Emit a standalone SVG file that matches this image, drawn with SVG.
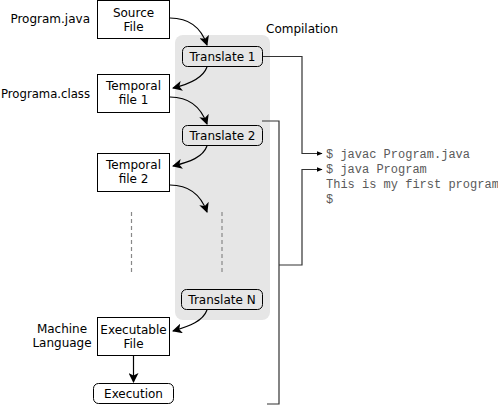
<svg xmlns="http://www.w3.org/2000/svg" width="498" height="405" viewBox="0 0 498 405">
<defs>
<style>
.t{font-family:"DejaVu Sans",Verdana,sans-serif;font-size:12px;fill:#000}
.c{text-anchor:middle}
.r{text-anchor:end}
.box{fill:#fff;stroke:#000;stroke-width:1}
.tr{fill:#e6e6e6;stroke:#000;stroke-width:1}
.m{font-family:"Liberation Mono","Courier New",monospace;font-size:12px;fill:#5a5a5a}
.a{fill:none;stroke:#000;stroke-width:1.2}
.l{fill:none;stroke:#333;stroke-width:1.2}
.d{fill:none;stroke:#888;stroke-width:1.2;stroke-dasharray:4 3}
</style>
<marker id="ah" viewBox="0 0 10 10" refX="9" refY="5" markerWidth="10" markerHeight="10" markerUnits="userSpaceOnUse" orient="auto">
<path d="M0,0 L10,5 L0,10 L2.5,5 Z" fill="#000"/>
</marker>
<marker id="as" viewBox="0 0 10 10" refX="9" refY="5" markerWidth="6" markerHeight="6" markerUnits="userSpaceOnUse" orient="auto">
<path d="M0,1 L10,5 L0,9 Z" fill="#000"/>
</marker>
</defs>
<rect id="compilation-bg" x="175" y="35" width="95" height="285" rx="8" fill="#e6e6e6"/>
<text class="t" x="266" y="33">Compilation</text>
<text class="t r" x="90" y="23">Program.java</text>
<text class="t" x="1" y="98" textLength="89" lengthAdjust="spacingAndGlyphs">Programa.class</text>
<text class="t c" x="62" y="333">Machine</text>
<text class="t c" x="62" y="347">Language</text>
<g id="source">
<rect class="box" x="97.5" y="0.5" width="72" height="38"/>
<text class="t c" x="133.5" y="17">Source</text>
<text class="t c" x="133.5" y="31">File</text>
</g>
<g id="translate1">
<rect class="tr" x="182.5" y="46.5" width="80" height="20" rx="5"/>
<text class="t c" x="222.5" y="60.5">Translate 1</text>
</g>
<g id="temporal1">
<rect class="box" x="97.5" y="74.5" width="72" height="38"/>
<text class="t c" x="133.5" y="90">Temporal</text>
<text class="t c" x="133.5" y="104">file 1</text>
</g>
<g id="translate2">
<rect class="tr" x="182.5" y="125.5" width="80" height="20" rx="5"/>
<text class="t c" x="222.5" y="139.5">Translate 2</text>
</g>
<g id="temporal2">
<rect class="box" x="97.5" y="153.5" width="72" height="38"/>
<text class="t c" x="133.5" y="169">Temporal</text>
<text class="t c" x="133.5" y="183">file 2</text>
</g>
<g id="translateN">
<rect class="tr" x="181.5" y="289.5" width="81" height="20" rx="5"/>
<text class="t c" x="222" y="303.5">Translate N</text>
</g>
<g id="executable">
<rect class="box" x="97.5" y="317.5" width="72" height="38"/>
<text class="t c" x="133.5" y="334">Executable</text>
<text class="t c" x="133.5" y="348">File</text>
</g>
<g id="execution">
<rect class="box" x="93.5" y="383.5" width="80" height="20" rx="5"/>
<text class="t c" x="133.5" y="397.5">Execution</text>
</g>
<g id="terminal">
<text class="m" x="326" y="158">$ javac Program.java</text>
<text class="m" x="326" y="173">$ java Program</text>
<text class="m" x="326" y="188">This is my first program</text>
<text class="m" x="326" y="203">$</text>
</g>
<g id="connectors">
<path class="a" d="M170,18 C192,18 202,30 207,45" marker-end="url(#ah)"/>
<path class="a" d="M207,67 C203,78 190,84 173,88" marker-end="url(#ah)"/>
<path class="a" d="M170,97 C192,97 202,110 207,124" marker-end="url(#ah)"/>
<path class="a" d="M207,146 C203,157 190,162 173,166" marker-end="url(#ah)"/>
<path class="a" d="M170,185 C192,185 202,198 207,212" marker-end="url(#ah)"/>
<path class="a" d="M207,310 C203,321 190,326 173,331" marker-end="url(#ah)"/>
<path class="a" d="M133.5,356 V382" marker-end="url(#ah)"/>
<path class="d" d="M131.5,212 V275"/>
<path class="d" d="M222,212 V275"/>
<path class="l" d="M263,56.5 H302 V153.5 H322" marker-end="url(#as)"/>
<path class="l" d="M262,121 H279 V404 H267"/>
<path class="l" d="M279,265 H302 V169.5 H322" marker-end="url(#as)"/>
</g>
</svg>
